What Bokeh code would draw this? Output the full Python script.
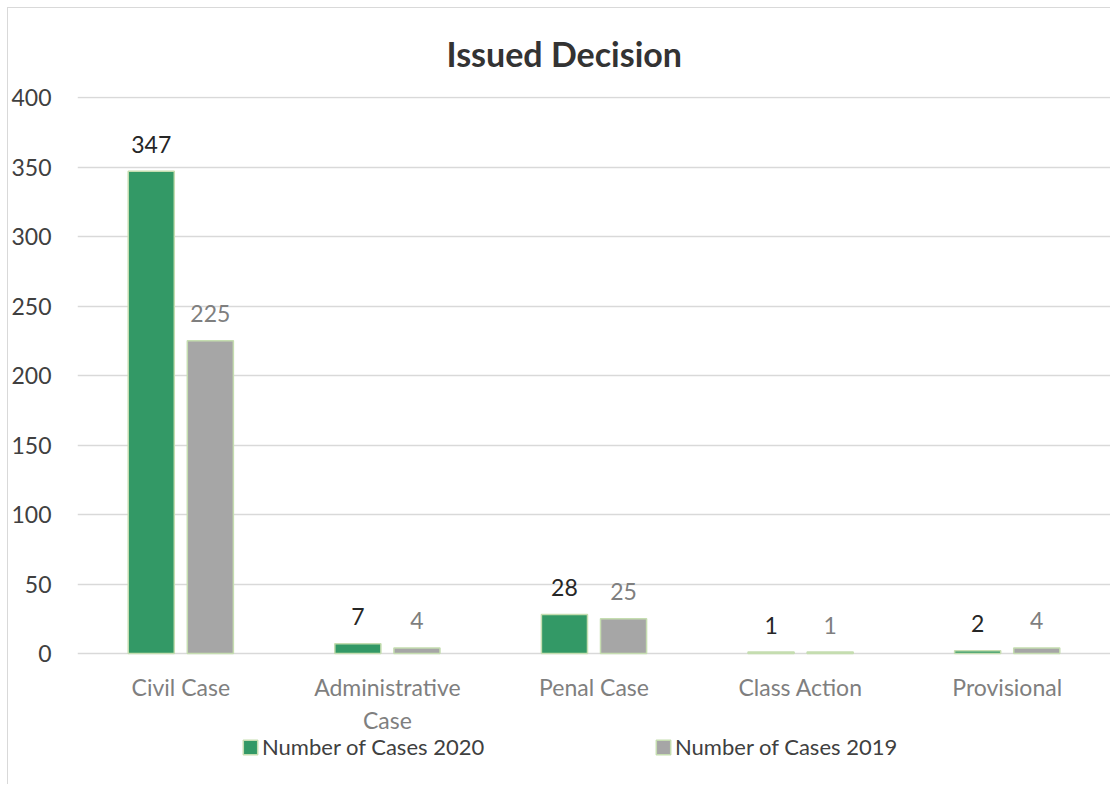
from bokeh.plotting import figure
from bokeh.models import ColumnDataSource, Legend, LegendItem, FixedTicker, Range1d, Title
from bokeh.transform import dodge
from bokeh.core.properties import value
from bokeh.embed import file_html
from bokeh.resources import INLINE

categories = ["Civil Case", "Administrative\nCase", "Penal Case", "Class Action", "Provisional"]
cases_2020 = [347, 7, 28, 1, 2]
cases_2019 = [225, 4, 25, 1, 4]
y_ticks = [0, 50, 100, 150, 200, 250, 300, 350, 400]

FONT = "Lato"
GREEN = "#339966"
GREY = "#A6A6A6"
EDGE = "#C5DDB0"

src = ColumnDataSource(dict(
    cat=categories,
    zero=[0] * len(categories),
    v2020=cases_2020,
    v2019=cases_2019,
    l2020=[str(v) for v in cases_2020],
    l2019=[str(v) for v in cases_2019],
))

# frame extends below the zero line so that category labels and legend live inside it
px_per_unit = 1.39
y_top = 400 + 1 / px_per_unit
y_bottom = -131 / px_per_unit

p = figure(
    x_range=categories, y_range=Range1d(y_bottom, y_top),
    frame_width=1033, frame_height=688,
    output_backend="svg", toolbar_location=None,
    min_border_left=69, min_border_right=0, min_border_top=88, min_border_bottom=0,
)
p.styles = {"border-left": "1px solid #d9d9d9", "border-top": "1px solid #d9d9d9",
            "margin-left": "7px", "margin-top": "7px"}
p.outline_line_color = None
p.background_fill_color = "white"

title = Title(text="Issued Decision", align="left", text_font=FONT,
              text_font_size="34px", text_font_style="bold", text_color="#333333",
              offset=369, standoff=45)
p.add_layout(title, "above")

p.x_range.range_padding = 0.0

r20 = p.vbar(x=dodge("cat", -0.143, range=p.x_range), top="v2020", width=0.223, source=src,
             fill_color=GREEN, line_color=EDGE, line_width=1.5)
r19 = p.vbar(x=dodge("cat", 0.143, range=p.x_range), top="v2019", width=0.223, source=src,
             fill_color=GREY, line_color=EDGE, line_width=1.5)

p.text(x=dodge("cat", -0.143, range=p.x_range), y="v2020", text="l2020", source=src,
       text_font=value(FONT), text_font_size="23px", text_color="#262626",
       text_align="center", text_baseline="alphabetic", y_offset=-27)
p.text(x=dodge("cat", 0.143, range=p.x_range), y="v2019", text="l2019", source=src,
       text_font=value(FONT), text_font_size="23px", text_color="#7f7f7f",
       text_align="center", text_baseline="alphabetic", y_offset=-27)

# category labels under the zero line
p.text(x="cat", y="zero", text="cat", source=src,
       text_font=value(FONT), text_font_size="23px", text_color="#7f7f7f",
       text_align="center", text_baseline="top", y_offset=19, text_line_height=1.2)

p.yaxis.ticker = FixedTicker(ticks=y_ticks)
p.yaxis.axis_line_color = None
p.yaxis.major_tick_line_color = None
p.yaxis.minor_tick_line_color = None
p.yaxis.major_label_text_font = FONT
p.yaxis.major_label_text_font_size = "23px"
p.yaxis.major_label_text_color = "#404040"
p.yaxis.major_label_standoff = 20

p.xaxis.visible = False

p.xgrid.grid_line_color = None
p.ygrid.ticker = FixedTicker(ticks=y_ticks)
p.ygrid.grid_line_color = "#d9d9d9"
p.ygrid.grid_line_width = 1.5

legend = Legend(items=[LegendItem(label="Number of Cases 2020", renderers=[r20]),
                       LegendItem(label="Number of Cases 2019", renderers=[r19])],
                orientation="horizontal", location=(164, 24),
                label_text_font=FONT, label_text_font_size="22px", label_text_color="#404040",
                glyph_width=18, glyph_height=18, spacing=0, label_standoff=3, label_width=392,
                border_line_color=None, background_fill_alpha=0, padding=0, margin=0)
p.add_layout(legend, "center")

open("out.html", "w").write(file_html(p, INLINE))
